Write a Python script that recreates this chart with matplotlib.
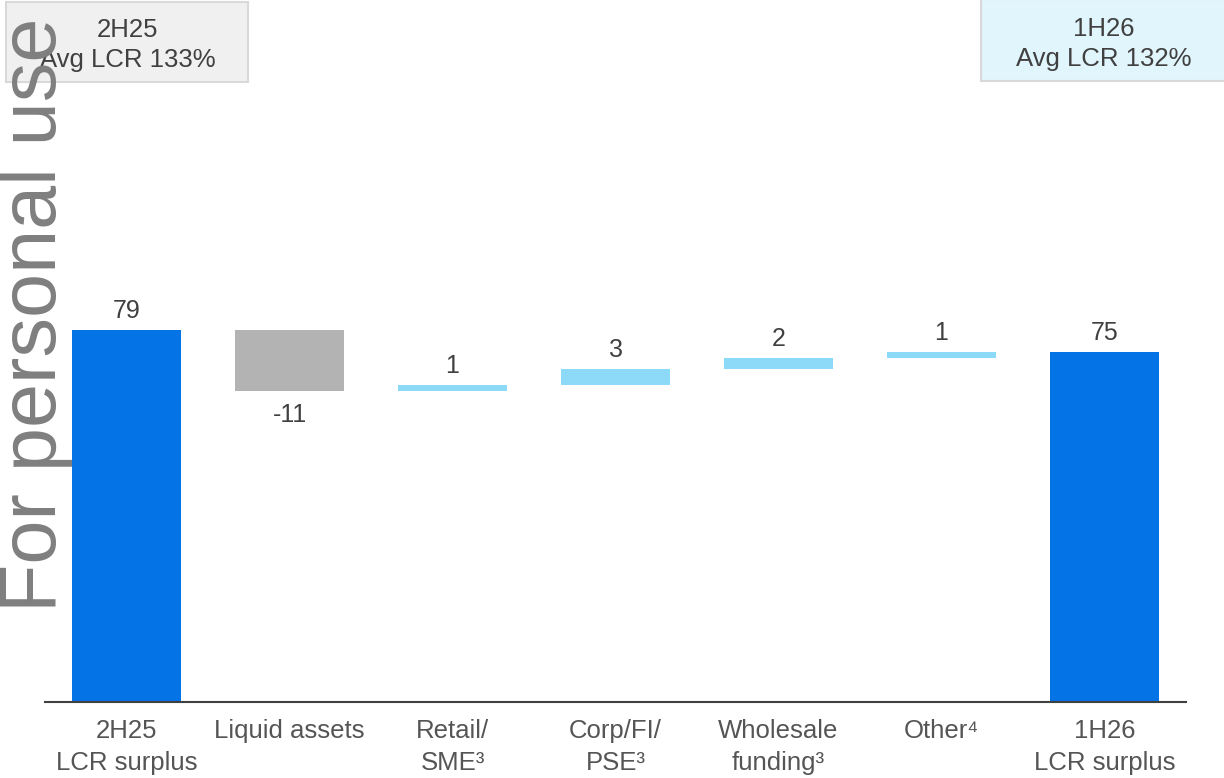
import matplotlib
matplotlib.use("Agg")
from matplotlib import pyplot as plt

plt.rcParams["font.family"] = ["Liberation Sans", "DejaVu Sans"]

categories = ["2H25\nLCR surplus", "Liquid assets", "Retail/\nSME\u00b3", "Corp/FI/\nPSE\u00b3",
              "Wholesale\nfunding\u00b3", "Other\u2074", "1H26\nLCR surplus"]
values = [79, -11, 1, 3, 2, 1, 75]
kinds = ["total", "delta", "delta", "delta", "delta", "delta", "total"]
box_left = ["2H25", "Avg LCR 133%"]
box_right = ["1H26", "Avg LCR 132%"]

BLUE = "#0473e6"
GREY = "#b3b3b3"
LIGHT = "#8cd9f8"
TXT = "#404040"
FS = 18.5

fig = plt.figure(figsize=(12.24, 7.78), dpi=100)
ax = fig.add_axes([0.0368, 0.0977, 0.9322, 0.9023])

running = 0
for i, (v, k) in enumerate(zip(values, kinds)):
    if k == "total":
        bottom, height, color = 0, v, BLUE
        running = v
    else:
        bottom = running if v > 0 else running + v
        height = abs(v)
        color = LIGHT if v > 0 else GREY
        running += v
    ax.bar(i, height, bottom=bottom, width=0.67, color=color, zorder=2)
    label = "%d" % v
    if v >= 0:
        ax.annotate(label, xy=(i, bottom + height), xytext=(0, 5), textcoords="offset points",
                    ha="center", va="bottom", fontsize=18, color=TXT)
    else:
        ax.annotate(label, xy=(i, bottom), xytext=(0, -9), textcoords="offset points",
                    ha="center", va="top", fontsize=18, color=TXT)

ax.set_xlim(-0.5, 6.5)
ax.set_ylim(11.4, 139)
ax.set_xticks(range(len(categories)))
ax.set_xticklabels(categories, fontsize=FS, color="#555555")
for t in ax.get_xticklabels():
    t.set_linespacing(1.45)
ax.tick_params(axis="x", length=0, pad=12)
ax.set_yticks([])
for s in ["top", "right", "left"]:
    ax.spines[s].set_visible(False)
ax.spines["bottom"].set_color(TXT)
ax.spines["bottom"].set_linewidth(1.5)

# header boxes
fig.patches.append(plt.Rectangle((6 / 1224, 1 - 82 / 778), 242 / 1224, 80 / 778, transform=fig.transFigure,
                                 fc="#f0f0f0", ec="#d9d9d9", lw=1.5, zorder=0))
fig.patches.append(plt.Rectangle((981 / 1224, 1 - 81 / 778), 250 / 1224, 82 / 778, transform=fig.transFigure,
                                 fc="#e1f5fc", ec="#d9d9d9", lw=1.5, zorder=0))
fig.text(127.5 / 1224, 1 - 45 / 778, "\n".join(box_left), ha="center", va="center", fontsize=FS,
         color=TXT, linespacing=1.3)
fig.text(1104 / 1224, 1 - 44 / 778, "\n".join(box_right), ha="center", va="center", fontsize=FS,
         color=TXT, linespacing=1.3)

# watermark
fig.text(-0.002, 1 - 612 / 778, "For personal use", rotation=90, ha="left", va="bottom",
         fontsize=57, color="#7f7f7f", zorder=5)

fig.savefig("out.png", dpi=100)
